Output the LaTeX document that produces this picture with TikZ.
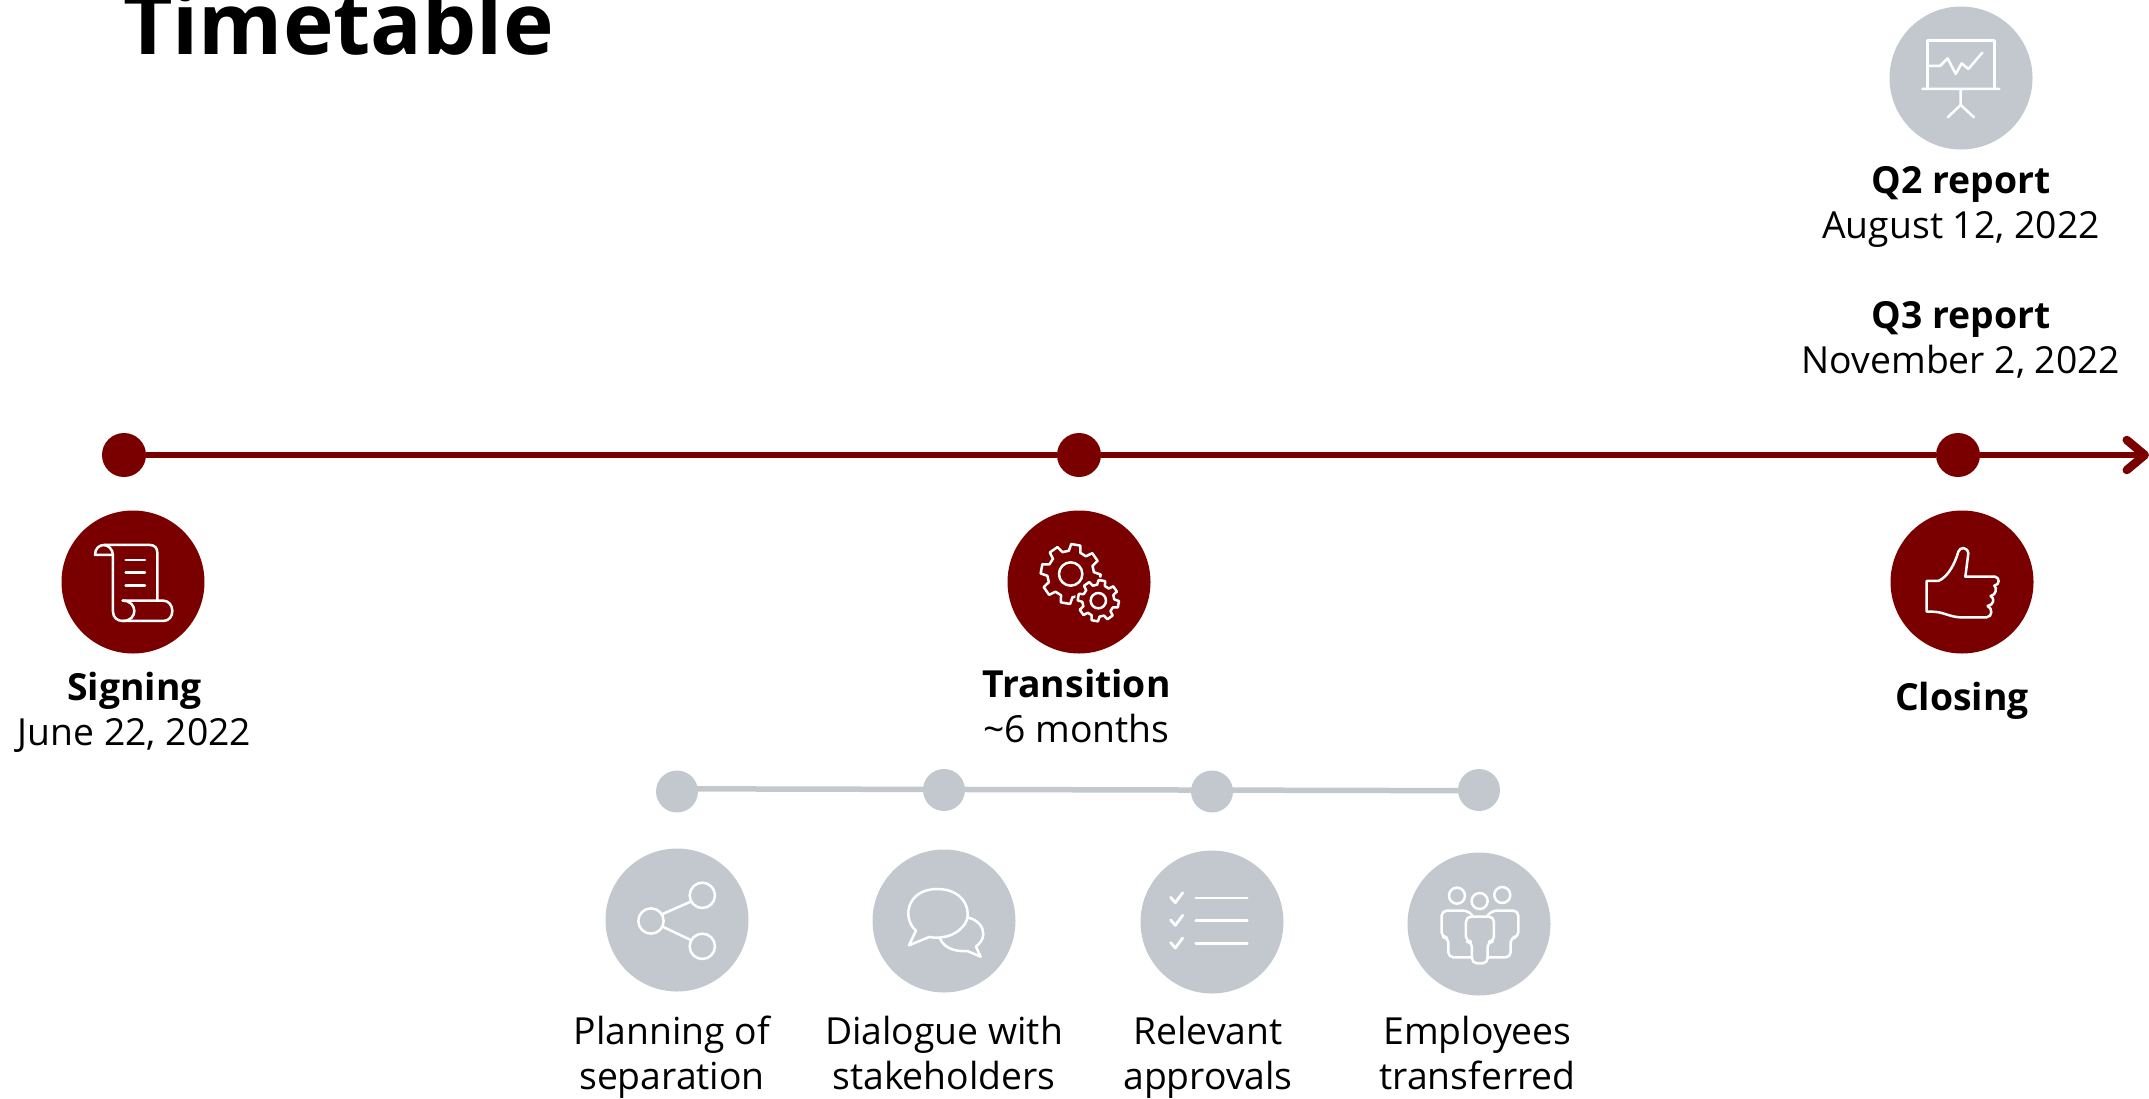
\documentclass[tikz,border=0pt]{standalone}
\usepackage{fontspec}
\setmainfont{Open Sans}
\usetikzlibrary{arrows.meta}
\definecolor{wine}{HTML}{7A0000}
\definecolor{mist}{HTML}{C3C8CF}
\newcommand{\gearpath}[5]{% cx cy R r n
  \pgfmathsetmacro{\gp}{360/#5}
  \draw[icon,fill=wine] ([shift={(#1,#2)}]10-0.20*\gp:#3)
    \foreach \k [evaluate=\k as \ga using (\k-1)*\gp+10] in {1,...,#5}{
      -- ([shift={(#1,#2)}]\ga-0.20*\gp:#3) -- ([shift={(#1,#2)}]\ga+0.20*\gp:#3)
      -- ([shift={(#1,#2)}]\ga+0.32*\gp:#4) -- ([shift={(#1,#2)}]\ga+0.68*\gp:#4)
    } -- cycle;
}
\newcommand{\lnstrut}{\strut}
\tikzset{
  x=1pt,y=-1pt,
  dotr/.style={circle,fill=wine,inner sep=0,minimum size=44pt},
  dotg/.style={circle,fill=mist,inner sep=0,minimum size=42pt},
  bigr/.style={circle,fill=wine,inner sep=0,minimum size=143pt},
  bigg/.style={circle,fill=mist,inner sep=0,minimum size=143pt},
  mainline/.style={draw=wine,line width=6pt},
  subline/.style={draw=mist,line width=5.5pt},
  label/.style={align=center,font=\fontsize{37.3}{45}\selectfont,inner sep=0},
  icon/.style={draw=white,line width=2.5pt,line join=round,line cap=round},
  zoomed/.style={x=0.3333pt,y=-0.3333pt},
}
\begin{document}
\begin{tikzpicture}
\useasboundingbox (0,0) rectangle (2149,1098);
\clip (0,0) rectangle (2149,1098);
\node[anchor=base west,inner sep=0,font=\fontsize{85.7}{96}\selectfont\bfseries] (title) at (123,54) {Timetable};

\node[dotr] (d1) at (124,455) {};
\node[dotr] (d2) at (1079,455) {};
\node[dotr] (d3) at (1958,455) {};
\coordinate (tip) at (2149,455);
\draw[mainline] (d1) -- (d2);
\draw[mainline] (d2) -- (d3);
\draw[mainline,-{Straight Barb[length=18pt,width=30pt,round,line width=8.5pt]}] (d3) -- (tip);

\node[bigr] (signing) at (133,582) {};
\node[bigr] (transition) at (1079,582) {};
\node[bigr] (closing) at (1962,582) {};
\node[bigg] (q2) at (1961,78) {};

\node[dotg] (s1) at (677,791.5) {};
\node[dotg] (s2) at (944,790) {};
\node[dotg] (s3) at (1212,791.5) {};
\node[dotg] (s4) at (1479,790) {};
\draw[subline] ([yshift=2.7pt]s1.center) -- ([yshift=-0.7pt]s4.center);

\node[bigg] (c1) at (677,920) {};
\node[bigg] (c2) at (944,921) {};
\node[bigg] (c3) at (1212,922) {};
\node[bigg] (c4) at (1479,924) {};

% labels
\node[label] (t1) at (134.5,713.5) {\lnstrut\textbf{Signing}\\\lnstrut June 22, 2022};
\node[label] (t2) at (1076.5,711) {\lnstrut\textbf{Transition}\\\lnstrut\textasciitilde 6 months};
\node[label] (t3) at (1962,701) {\lnstrut\textbf{Closing}};
\node[label] (t4) at (1961,207) {\lnstrut\textbf{Q2 report}\\\lnstrut August 12, 2022};
\node[label] (t5) at (1961,342) {\lnstrut\textbf{Q3 report}\\\lnstrut November 2, 2022};
\node[label] (t6) at (672,1058) {\lnstrut Planning of\\\lnstrut separation};
\node[label] (t7) at (944,1058) {\lnstrut Dialogue with\\\lnstrut stakeholders};
\node[label] (t8) at (1208,1058) {\lnstrut Relevant\\\lnstrut approvals};
\node[label] (t9) at (1477.5,1058) {\lnstrut Employees\\\lnstrut transferred};

% scroll
\begin{scope}[shift={(40,420)},zoomed]
\draw[icon] (215,405) -- (165,405) .. controls (165,385) and (178,375) .. (192,375) -- (330,375) .. controls (345,375) and (352,385) .. (352,398) -- (352,541);
\draw[icon] (192,375) .. controls (205,375) and (218,388) .. (219,405) -- (219,575) .. controls (219,592) and (232,603) .. (248,603) -- (370,603) .. controls (388,603) and (397,588) .. (397,573) .. controls (397,555) and (385,542) .. (370,542) -- (248,542);
\draw[icon] (248,542) .. controls (272,542) and (283,558) .. (283,573) .. controls (283,588) and (272,603) .. (248,603);
\draw[icon] (257,420) -- (315,420) (257,458) -- (315,458) (257,496) -- (315,496);
\end{scope}

% gears
\begin{scope}[shift={(990,500)},zoomed]
\gearpath{242}{222}{90}{70}{8}
\draw[icon] (242,222) circle (35);
\fill[wine] (325,302) circle (70);
\gearpath{325}{302}{62}{48}{8}
\draw[icon] (325,302) circle (23);
\end{scope}

% thumb
\begin{scope}[shift={(1860,420)},zoomed]
\draw[icon] (200,483) -- (235,483) .. controls (265,470) and (285,430) .. (295,395) .. controls (300,380) and (322,380) .. (325,400) -- (316,470) -- (405,470) .. controls (420,472) and (420,495) .. (403,497) .. controls (412,505) and (408,525) .. (392,528) .. controls (405,535) and (402,555) .. (383,558) .. controls (398,565) and (398,590) .. (380,592) -- (300,592) .. controls (265,590) and (250,575) .. (215,575) -- (200,575) -- cycle;
\end{scope}

% presentation
\begin{scope}[shift={(1870,0)},zoomed]
\draw[icon] (172,265) -- (172,122) -- (373,122) -- (373,265);
\draw[icon] (157,267) -- (388,267) (272,267) -- (272,315) (233,352) -- (272,315) -- (312,352);
\draw[icon] (172,198) -- (210,198) -- (233,175) -- (257,222) -- (275,190) -- (295,207) -- (337,158);
\end{scope}

% share
\begin{scope}[shift={(590,840)},zoomed]
\draw[icon] (183,243) circle (38) (337,166) circle (38) (337,319) circle (38);
\draw[icon] (218,222) -- (302,185) (218,260) -- (302,300);
\end{scope}

% chat
\begin{scope}[shift={(590,840)},zoomed]
\draw[icon] (978,272) .. controls (935,235) and (950,147) .. (1042,147) .. controls (1130,147) and (1150,225) .. (1120,258) .. controls (1095,290) and (1050,297) .. (1018,291) -- (957,316) -- cycle;
\draw[icon] (1135,233) .. controls (1165,240) and (1180,262) .. (1180,282) .. controls (1180,298) and (1170,310) .. (1158,320) -- (1172,350) -- (1132,333) .. controls (1100,335) and (1065,328) .. (1050,296);
\end{scope}

% checklist
\begin{scope}[shift={(1130,840)},zoomed]
\foreach \d in {0,68,136}{
  \draw[icon,line width=2.8pt] (122,172+\d) -- (136,188+\d) -- (158,158+\d);
  \draw[icon] (197,174+\d) -- (352,174+\d);
}
\end{scope}

% people
\begin{scope}[shift={(1130,840)},zoomed]
\draw[icon] (981,167) circle (24) (1117,165) circle (24) (1049,183) circle (24);
\draw[icon,rounded corners=5pt] (1028,228) -- (1015,212) -- (935,212) -- (935,292) -- (955,292) -- (955,352) -- (1026,352);
\draw[icon,rounded corners=5pt] (1072,228) -- (1085,212) -- (1165,212) -- (1165,292) -- (1142,292) -- (1142,352) -- (1073,352);
\draw[icon,rounded corners=5pt] (1008,230) -- (1092,230) -- (1092,305) -- (1073,305) -- (1073,370) -- (1026,370) -- (1026,305) -- (1008,305) -- cycle;
\end{scope}
\end{tikzpicture}
\end{document}
